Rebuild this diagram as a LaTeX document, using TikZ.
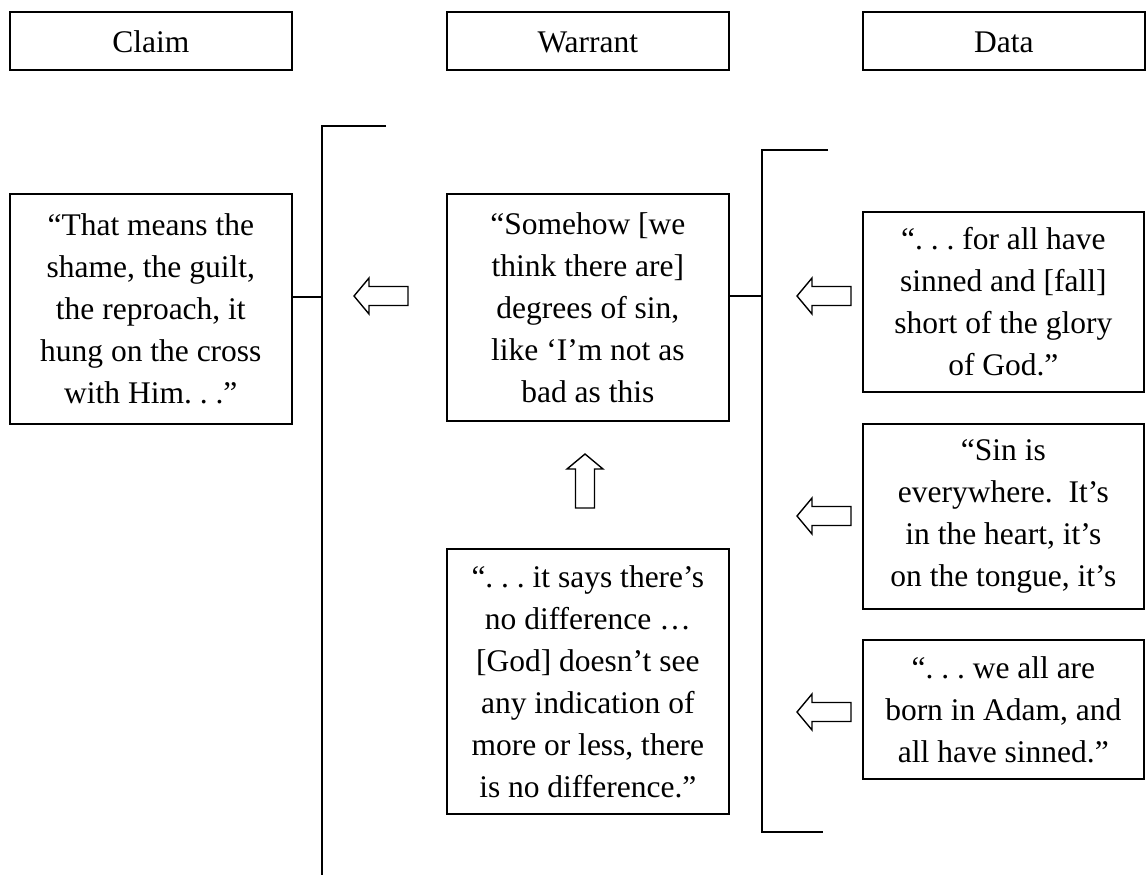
\documentclass[tikz,border=0pt]{standalone}
\usepackage{fontspec}
\setmainfont{Liberation Serif}
\frenchspacing
\begin{document}
\begin{tikzpicture}[x=1pt,y=-1pt,
  every node/.style={font=\fontsize{31.5pt}{42pt}\selectfont},
  framebox/.style={draw, line width=1.7pt, inner sep=0pt, align=center,
    anchor=north west},
  headbox/.style={framebox, minimum width=282pt, minimum height=58pt,
    text height=26pt, text depth=2pt},
  barline/.style={line width=1.7pt},
  arrowline/.style={line width=1.4pt, line join=miter},
  larrow/.pic={\draw[arrowline] (0,0) -- (15,-18) -- (15,-9.5) -- (54,-9.5)
    -- (54,9.5) -- (15,9.5) -- (15,18) -- cycle;}]
\useasboundingbox (0,0) rectangle (1146,875);

% column headings
\node[headbox] (claimhdr) at (9,11) {Claim};
\node[headbox] (warranthdr) at (446,11) {Warrant};
\node[headbox] (datahdr) at (862,11) {Data};

% claim
\node[framebox, minimum width=282pt, minimum height=230pt] (claimtxt) at (9,193)
  {“That means the\\shame, the guilt,\\the reproach, it\\hung on the cross\\with Him. . .”};

% warrant and its backing
\node[framebox, minimum width=282pt, minimum height=227pt] (warranttxt) at (446,193)
  {“Somehow [we\\think there are]\\degrees of sin,\\like ‘I’m not as\\bad as this};
\node[framebox, minimum width=282pt, minimum height=265pt] (backtxt) at (446,548)
  {“. . . it says there’s\\no difference …\\{[God]} doesn’t see\\any indication of\\more or less, there\\is no difference.”};

% data
\node[framebox, minimum width=281pt, minimum height=180pt] (dataone) at (862,211)
  {“. . . for all have\\sinned and [fall]\\short of the glory\\of God.”};
\node[framebox, minimum width=281pt, minimum height=185pt] (datatwo) at (862,423)
  {“Sin is\\everywhere.~ It’s\\in the heart, it’s\\on the tongue, it’s};
\node[framebox, minimum width=281pt, minimum height=139pt] (datathree) at (862,639)
  {“. . . we all are\\born in Adam, and\\all have sinned.”};

% brackets
\coordinate (cbartop) at (322,126);
\coordinate (cbartick) at (386,126);
\coordinate (cbarbot) at (322,875);
\coordinate (dbartop) at (762,150);
\coordinate (dbartick) at (828,150);
\coordinate (dbarbot) at (762,832);
\coordinate (dbarfoot) at (823,832);
\draw[barline] (cbartick) -- (cbartop) -- (cbarbot);
\draw[barline] (dbartick) -- (dbartop) -- (dbarbot) -- (dbarfoot);
\draw[barline] ([yshift=12pt]claimtxt.east) -- ([yshift=12pt]claimtxt.east -| cbartop);
\draw[barline] ([yshift=11.5pt]warranttxt.east) -- ([yshift=11.5pt]warranttxt.east -| dbartop);

% block arrows
\coordinate (arrclaim) at (354,296);
\coordinate (arrone) at (797,296);
\coordinate (arrtwo) at (797,516);
\coordinate (arrthree) at (797,712);
\coordinate (arrup) at (585,454);
\pic at (arrclaim) {larrow};
\pic at (arrone) {larrow};
\pic at (arrtwo) {larrow};
\pic at (arrthree) {larrow};
\pic[rotate=-90] at (arrup) {larrow};
\end{tikzpicture}
\end{document}
